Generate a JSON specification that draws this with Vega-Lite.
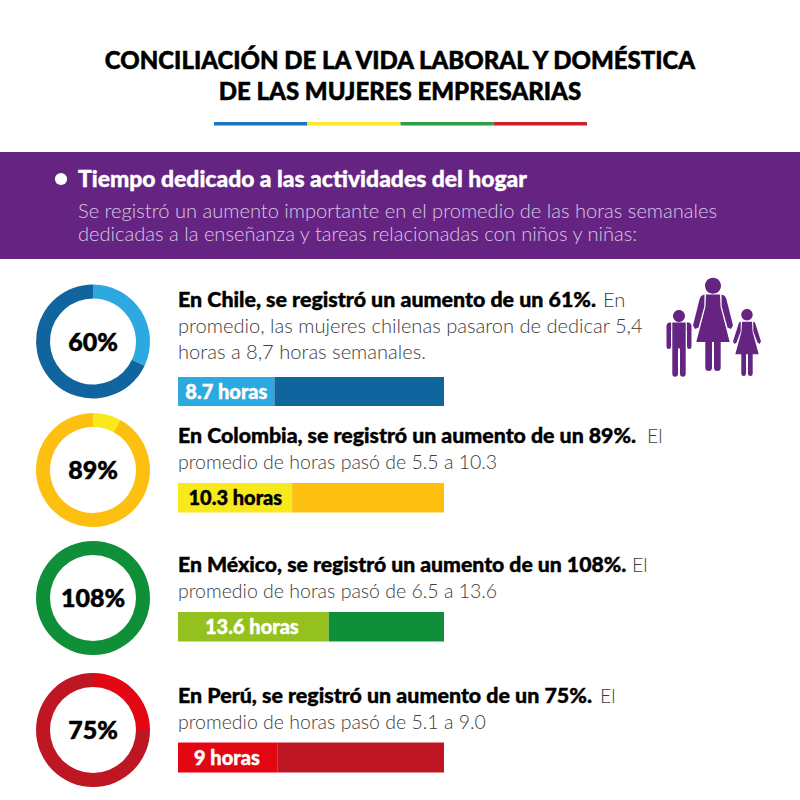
{"$schema":"https://vega.github.io/schema/vega-lite/v6.json","padding":0,"background":"white","spacing":0,
"resolve":{"scale":{"color":"independent","shape":"independent"}},
"config":{"view":{"stroke":null},"text":{"font":"Lato"},"concat":{"spacing":0}},
"vconcat":[
{"width":800,"height":152,"resolve":{"scale":{"x":"independent","y":"independent"}},"layer":[
 {"data":{"values":[{"linea":"1","texto":"CONCILIACIÓN DE LA VIDA LABORAL Y DOMÉSTICA"},{"linea":"2","texto":"DE LAS MUJERES EMPRESARIAS"}]},
  "mark":{"type":"text","fontWeight":900,"fontSize":24,"color":"#000000","stroke":"#000000","strokeWidth":0.5,"align":"center","baseline":"middle"},
  "encoding":{"y":{"field":"linea","type":"ordinal","axis":null,"scale":{"type":"point","domain":["1","2"],"range":[62,93],"padding":0}},"text":{"field":"texto"}}},
 {"data":{"values":[{"tramo":"Chile","orden":1,"parte":25,"fila":"regla"},{"tramo":"Colombia","orden":2,"parte":25,"fila":"regla"},{"tramo":"México","orden":3,"parte":25,"fila":"regla"},{"tramo":"Perú","orden":4,"parte":25,"fila":"regla"}]},
  "mark":"bar",
  "encoding":{"x":{"field":"parte","type":"quantitative","axis":null,"scale":{"domain":[0,100],"range":[214,587]}},
   "y":{"field":"fila","type":"nominal","axis":null,"scale":{"type":"band","domain":["regla"],"range":[122,125.5],"paddingInner":0,"paddingOuter":0}},
   "order":{"field":"orden"},
   "color":{"field":"tramo","type":"nominal","legend":null,"scale":{"domain":["Chile","Colombia","México","Perú"],"range":["#1C75BC","#FFE92C","#2E9E4D","#CC2229"]}}}}
]},
{"width":800,"height":107,"view":{"fill":"#662482","stroke":null},"resolve":{"scale":{"x":"independent","y":"independent"}},"layer":[
 {"data":{"values":[{"columna":"viñeta","fila":"1"}]},"mark":{"type":"point","filled":true,"opacity":1,"size":150,"shape":"circle","color":"#ffffff"},
  "encoding":{"x":{"field":"columna","type":"nominal","axis":null,"scale":{"type":"point","range":[61,61],"padding":0}},
   "y":{"field":"fila","type":"ordinal","axis":null,"scale":{"type":"point","range":[27,27],"padding":0}}}},
 {"data":{"values":[{"columna":"texto","fila":"1","texto":"Tiempo dedicado a las actividades del hogar"}]},"mark":{"type":"text","fontWeight":900,"fontSize":22.9,"color":"#ffffff","stroke":"#ffffff","strokeWidth":0.4,"align":"left","baseline":"middle"},
  "encoding":{"x":{"field":"columna","type":"nominal","axis":null,"scale":{"type":"point","range":[78,78],"padding":0}},
   "y":{"field":"fila","type":"ordinal","axis":null,"scale":{"type":"point","range":[28,28],"padding":0}},"text":{"field":"texto"}}},
 {"data":{"values":[{"columna":"texto","fila":"2","texto":"Se registró un aumento importante en el promedio de las horas semanales"},{"columna":"texto","fila":"3","texto":"dedicadas a la enseñanza y tareas relacionadas con niños y niñas:"}]},"mark":{"type":"text","fontWeight":300,"fontSize":20.1,"color":"#D9C8E3","align":"left","baseline":"middle"},
  "encoding":{"x":{"field":"columna","type":"nominal","axis":null,"scale":{"type":"point","range":[78,78],"padding":0}},
   "y":{"field":"fila","type":"ordinal","axis":null,"scale":{"type":"point","domain":["2","3"],"range":[60,83],"padding":0}},"text":{"field":"texto"}}}
]},
{"width":800,"height":18,"data":{"values":[{"vacio":""}]},"mark":{"type":"text"},"encoding":{"text":{"field":"vacio"}}},

{"spacing":0,"resolve":{"scale":{"color":"independent","shape":"independent"}},"hconcat":[
 {"width":178,"height":129,"layer":[
  {"data":{"values":[{"pais":"Chile","parte":"aumento","orden":1,"pct":32},{"pais":"Chile","parte":"resto","orden":2,"pct":68}]},
   "mark":{"type":"arc","radius":57,"radius2":43},
   "encoding":{"theta":{"field":"pct","type":"quantitative"},"order":{"field":"orden"},
    "x":{"field":"pais","type":"nominal","axis":null,"scale":{"type":"point","range":[93,93],"padding":0}},
    "color":{"field":"parte","type":"nominal","legend":null,"scale":{"domain":["aumento","resto"],"range":["#2DA9E1","#11659F"]}}}},
  {"data":{"values":[{"pais":"Chile","etiqueta":"60%"}]},"mark":{"type":"text","fontWeight":900,"fontSize":25,"color":"#000000","stroke":"#000000","strokeWidth":0.5,"baseline":"middle","dy":1},
   "encoding":{"x":{"field":"pais","type":"nominal","axis":null,"scale":{"type":"point","range":[93,93],"padding":0}},"text":{"field":"etiqueta"}}}
 ]},
 {"width":622,"height":129,"resolve":{"scale":{"x":"independent","y":"independent"}},"layer":[
  {"data":{"values":[{"pais":"Chile","parte":"aumento","orden":1,"horas":8.7,"fila":"barra"},{"pais":"Chile","parte":"resto","orden":2,"horas":15.3,"fila":"barra"}]},
   "mark":"bar",
   "encoding":{"x":{"field":"horas","type":"quantitative","axis":null,"scale":{"domain":[0,24],"range":[0,266]}},"order":{"field":"orden"},
    "y":{"field":"fila","type":"nominal","axis":null,"scale":{"type":"band","domain":["barra"],"range":[100,129],"paddingInner":0,"paddingOuter":0}},
    "color":{"field":"parte","type":"nominal","legend":null,"scale":{"domain":["aumento","resto"],"range":["#2DA9E1","#11659F"]}}}},
  {"data":{"values":[{"horas":8.7,"fila":"barra","etiqueta":"8.7 horas"}]},"mark":{"type":"text","fontWeight":900,"fontSize":20,"color":"#ffffff","stroke":"#ffffff","strokeWidth":0.4,"align":"right","baseline":"middle","dx":-7,"dy":1},
   "encoding":{"x":{"field":"horas","type":"quantitative","axis":null,"scale":{"domain":[0,24],"range":[0,266]}},
    "y":{"field":"fila","type":"nominal","axis":null,"scale":{"type":"band","domain":["barra"],"range":[100,129],"paddingInner":0,"paddingOuter":0}},"text":{"field":"etiqueta"}}},
  {"data":{"values":[{"columna":"inicio","linea":"1","texto":"En Chile, se registró un aumento de un 61%."}]},"mark":{"type":"text","fontWeight":900,"fontSize":21.4,"color":"#000000","stroke":"#000000","strokeWidth":0.4,"align":"left","baseline":"middle"},
   "encoding":{"x":{"field":"columna","type":"nominal","axis":null,"scale":{"type":"point","domain":["inicio","cierre"],"range":[0,425],"padding":0}},
    "y":{"field":"linea","type":"ordinal","axis":null,"scale":{"type":"point","domain":["1","2","3"],"range":[24,76],"padding":0}},"text":{"field":"texto"}}},
  {"data":{"values":[{"columna":"cierre","linea":"1","texto":"En"},{"columna":"inicio","linea":"2","texto":"promedio, las mujeres chilenas pasaron de dedicar 5,4"},{"columna":"inicio","linea":"3","texto":"horas a 8,7 horas semanales."}]},"mark":{"type":"text","fontWeight":300,"fontSize":20.1,"color":"#3C3C3B","align":"left","baseline":"middle"},
   "encoding":{"x":{"field":"columna","type":"nominal","axis":null,"scale":{"type":"point","domain":["inicio","cierre"],"range":[0,425],"padding":0}},
    "y":{"field":"linea","type":"ordinal","axis":null,"scale":{"type":"point","domain":["1","2","3"],"range":[24,76],"padding":0}},"text":{"field":"texto"}}},
  {"data":{"values":[{"persona":"niño"},{"persona":"madre"},{"persona":"niña"}]},"mark":{"type":"point","filled":true,"opacity":1,"size":40000,"color":"#662482","strokeWidth":0},
   "encoding":{"x":{"field":"persona","type":"nominal","axis":null,"scale":{"type":"point","domain":["niño","madre","niña"],"range":[501,569],"padding":0}},
    "shape":{"field":"persona","type":"nominal","legend":null,"scale":{"domain":["niño","madre","niña"],"range":[
     "M-0.06,-0.255a0.06,0.06 0 1,0 0.12,0a0.06,0.06 0 1,0 -0.12,0ZM-0.067,-0.19L0.067,-0.19L0.067,0.32Q0.067,0.352 0.038,0.352Q0.01,0.352 0.01,0.32L0.01,0.07L-0.01,0.07L-0.01,0.32Q-0.01,0.352 -0.038,0.352Q-0.067,0.352 -0.067,0.32ZM-0.078,-0.19L-0.09,-0.19Q-0.125,-0.19 -0.125,-0.15L-0.125,0.05Q-0.125,0.075 -0.102,0.075Q-0.08,0.075 -0.08,0.05L-0.08,-0.11L-0.078,-0.11ZM0.078,-0.19L0.09,-0.19Q0.125,-0.19 0.125,-0.15L0.125,0.05Q0.125,0.075 0.102,0.075Q0.08,0.075 0.08,0.05L0.08,-0.11L0.078,-0.11Z",
     "M-0.08,-0.558a0.08,0.08 0 1,0 0.16,0a0.08,0.08 0 1,0 -0.16,0ZM-0.07,-0.47L0.07,-0.47L0.075,-0.35L0.167,0.005L-0.167,0.005L-0.075,-0.35ZM-0.085,-0.47L-0.11,-0.46Q-0.13,-0.45 -0.14,-0.4L-0.2,-0.16L-0.18,-0.125L-0.145,-0.14L-0.087,-0.35ZM0.085,-0.47L0.11,-0.46Q0.13,-0.45 0.14,-0.4L0.2,-0.16L0.18,-0.125L0.145,-0.14L0.087,-0.35ZM-0.077,0.005L-0.01,0.005L-0.01,0.26Q-0.01,0.295 -0.043,0.295Q-0.077,0.295 -0.077,0.26ZM0.01,0.005L0.077,0.005L0.077,0.26Q0.077,0.295 0.043,0.295Q0.01,0.295 0.01,0.26Z",
     "M-0.057,-0.268a0.057,0.057 0 1,0 0.114,0a0.057,0.057 0 1,0 -0.114,0ZM-0.05,-0.198L0.05,-0.198L0.055,-0.1L0.117,0.128L-0.117,0.128L-0.055,-0.1ZM-0.062,-0.198L-0.08,-0.19L-0.14,0L-0.125,0.025L-0.105,0.01L-0.063,-0.1ZM0.062,-0.198L0.08,-0.19L0.14,0L0.125,0.025L0.105,0.01L0.063,-0.1ZM-0.057,0.128L-0.01,0.128L-0.01,0.32Q-0.01,0.345 -0.033,0.345Q-0.057,0.345 -0.057,0.32ZM0.01,0.128L0.057,0.128L0.057,0.32Q0.057,0.345 0.033,0.345Q0.01,0.345 0.01,0.32Z"
    ]}}}}
 ]}
]},

{"spacing":0,"resolve":{"scale":{"color":"independent"}},"hconcat":[
 {"width":178,"height":128,"layer":[
  {"data":{"values":[{"pais":"Colombia","parte":"aumento","orden":1,"pct":8},{"pais":"Colombia","parte":"resto","orden":2,"pct":92}]},
   "mark":{"type":"arc","radius":57,"radius2":43},
   "encoding":{"theta":{"field":"pct","type":"quantitative"},"order":{"field":"orden"},
    "x":{"field":"pais","type":"nominal","axis":null,"scale":{"type":"point","range":[93,93],"padding":0}},
    "color":{"field":"parte","type":"nominal","legend":null,"scale":{"domain":["aumento","resto"],"range":["#F7E91B","#FDC010"]}}}},
  {"data":{"values":[{"pais":"Colombia","etiqueta":"89%"}]},"mark":{"type":"text","fontWeight":900,"fontSize":25,"color":"#000000","stroke":"#000000","strokeWidth":0.5,"baseline":"middle","dy":1},
   "encoding":{"x":{"field":"pais","type":"nominal","axis":null,"scale":{"type":"point","range":[93,93],"padding":0}},"text":{"field":"etiqueta"}}}
 ]},
 {"width":622,"height":128,"resolve":{"scale":{"x":"independent","y":"independent"}},"layer":[
  {"data":{"values":[{"pais":"Colombia","parte":"aumento","orden":1,"horas":10.3,"fila":"barra"},{"pais":"Colombia","parte":"resto","orden":2,"horas":13.7,"fila":"barra"}]},
   "mark":"bar",
   "encoding":{"x":{"field":"horas","type":"quantitative","axis":null,"scale":{"domain":[0,24],"range":[0,266]}},"order":{"field":"orden"},
    "y":{"field":"fila","type":"nominal","axis":null,"scale":{"type":"band","domain":["barra"],"range":[77,106.5],"paddingInner":0,"paddingOuter":0}},
    "color":{"field":"parte","type":"nominal","legend":null,"scale":{"domain":["aumento","resto"],"range":["#F7E91B","#FDC010"]}}}},
  {"data":{"values":[{"horas":10.3,"fila":"barra","etiqueta":"10.3 horas"}]},"mark":{"type":"text","fontWeight":900,"fontSize":20,"color":"#000000","stroke":"#000000","strokeWidth":0.4,"align":"right","baseline":"middle","dx":-10,"dy":1},
   "encoding":{"x":{"field":"horas","type":"quantitative","axis":null,"scale":{"domain":[0,24],"range":[0,266]}},
    "y":{"field":"fila","type":"nominal","axis":null,"scale":{"type":"band","domain":["barra"],"range":[77,106.5],"paddingInner":0,"paddingOuter":0}},"text":{"field":"etiqueta"}}},
  {"data":{"values":[{"columna":"inicio","linea":"1","texto":"En Colombia, se registró un aumento de un 89%."}]},"mark":{"type":"text","fontWeight":900,"fontSize":21.3,"color":"#000000","stroke":"#000000","strokeWidth":0.4,"align":"left","baseline":"middle"},
   "encoding":{"x":{"field":"columna","type":"nominal","axis":null,"scale":{"type":"point","domain":["inicio","cierre"],"range":[0,469],"padding":0}},
    "y":{"field":"linea","type":"ordinal","axis":null,"scale":{"type":"point","domain":["1","2"],"range":[31,57],"padding":0}},"text":{"field":"texto"}}},
  {"data":{"values":[{"columna":"cierre","linea":"1","texto":"El"},{"columna":"inicio","linea":"2","texto":"promedio de horas pasó de 5.5 a 10.3"}]},"mark":{"type":"text","fontWeight":300,"fontSize":19.5,"color":"#3C3C3B","align":"left","baseline":"middle"},
   "encoding":{"x":{"field":"columna","type":"nominal","axis":null,"scale":{"type":"point","domain":["inicio","cierre"],"range":[0,469],"padding":0}},
    "y":{"field":"linea","type":"ordinal","axis":null,"scale":{"type":"point","domain":["1","2"],"range":[31,57],"padding":0}},"text":{"field":"texto"}}}
 ]}
]},

{"spacing":0,"resolve":{"scale":{"color":"independent"}},"hconcat":[
 {"width":178,"height":128,"layer":[
  {"data":{"values":[{"pais":"México","parte":"resto","orden":1,"pct":100}]},
   "mark":{"type":"arc","radius":57,"radius2":43},
   "encoding":{"theta":{"field":"pct","type":"quantitative"},"order":{"field":"orden"},
    "x":{"field":"pais","type":"nominal","axis":null,"scale":{"type":"point","range":[93,93],"padding":0}},
    "color":{"field":"parte","type":"nominal","legend":null,"scale":{"domain":["aumento","resto"],"range":["#95C11F","#0F9038"]}}}},
  {"data":{"values":[{"pais":"México","etiqueta":"108%"}]},"mark":{"type":"text","fontWeight":900,"fontSize":25,"color":"#000000","stroke":"#000000","strokeWidth":0.5,"baseline":"middle","dy":1},
   "encoding":{"x":{"field":"pais","type":"nominal","axis":null,"scale":{"type":"point","range":[93,93],"padding":0}},"text":{"field":"etiqueta"}}}
 ]},
 {"width":622,"height":128,"resolve":{"scale":{"x":"independent","y":"independent"}},"layer":[
  {"data":{"values":[{"pais":"México","parte":"aumento","orden":1,"horas":13.6,"fila":"barra"},{"pais":"México","parte":"resto","orden":2,"horas":10.4,"fila":"barra"}]},
   "mark":"bar",
   "encoding":{"x":{"field":"horas","type":"quantitative","axis":null,"scale":{"domain":[0,24],"range":[0,266]}},"order":{"field":"orden"},
    "y":{"field":"fila","type":"nominal","axis":null,"scale":{"type":"band","domain":["barra"],"range":[78,107.5],"paddingInner":0,"paddingOuter":0}},
    "color":{"field":"parte","type":"nominal","legend":null,"scale":{"domain":["aumento","resto"],"range":["#95C11F","#0F9038"]}}}},
  {"data":{"values":[{"horas":13.6,"fila":"barra","etiqueta":"13.6 horas"}]},"mark":{"type":"text","fontWeight":900,"fontSize":20,"color":"#ffffff","stroke":"#ffffff","strokeWidth":0.4,"align":"right","baseline":"middle","dx":-30,"dy":1},
   "encoding":{"x":{"field":"horas","type":"quantitative","axis":null,"scale":{"domain":[0,24],"range":[0,266]}},
    "y":{"field":"fila","type":"nominal","axis":null,"scale":{"type":"band","domain":["barra"],"range":[78,107.5],"paddingInner":0,"paddingOuter":0}},"text":{"field":"etiqueta"}}},
  {"data":{"values":[{"columna":"inicio","linea":"1","texto":"En México, se registró un aumento de un 108%."}]},"mark":{"type":"text","fontWeight":900,"fontSize":21.2,"color":"#000000","stroke":"#000000","strokeWidth":0.4,"align":"left","baseline":"middle"},
   "encoding":{"x":{"field":"columna","type":"nominal","axis":null,"scale":{"type":"point","domain":["inicio","cierre"],"range":[0,454],"padding":0}},
    "y":{"field":"linea","type":"ordinal","axis":null,"scale":{"type":"point","domain":["1","2"],"range":[32,58],"padding":0}},"text":{"field":"texto"}}},
  {"data":{"values":[{"columna":"cierre","linea":"1","texto":"El"},{"columna":"inicio","linea":"2","texto":"promedio de horas pasó de 6.5 a 13.6"}]},"mark":{"type":"text","fontWeight":300,"fontSize":19.5,"color":"#3C3C3B","align":"left","baseline":"middle"},
   "encoding":{"x":{"field":"columna","type":"nominal","axis":null,"scale":{"type":"point","domain":["inicio","cierre"],"range":[0,454],"padding":0}},
    "y":{"field":"linea","type":"ordinal","axis":null,"scale":{"type":"point","domain":["1","2"],"range":[32,58],"padding":0}},"text":{"field":"texto"}}}
 ]}
]},

{"spacing":0,"resolve":{"scale":{"color":"independent"}},"hconcat":[
 {"width":178,"height":136,"layer":[
  {"data":{"values":[{"pais":"Perú","parte":"aumento","orden":1,"pct":25},{"pais":"Perú","parte":"resto","orden":2,"pct":75}]},
   "mark":{"type":"arc","radius":57,"radius2":43},
   "encoding":{"theta":{"field":"pct","type":"quantitative"},"order":{"field":"orden"},
    "x":{"field":"pais","type":"nominal","axis":null,"scale":{"type":"point","range":[93,93],"padding":0}},
    "color":{"field":"parte","type":"nominal","legend":null,"scale":{"domain":["aumento","resto"],"range":["#E30613","#BE1622"]}}}},
  {"data":{"values":[{"pais":"Perú","etiqueta":"75%"}]},"mark":{"type":"text","fontWeight":900,"fontSize":25,"color":"#000000","stroke":"#000000","strokeWidth":0.5,"baseline":"middle","dy":1},
   "encoding":{"x":{"field":"pais","type":"nominal","axis":null,"scale":{"type":"point","range":[93,93],"padding":0}},"text":{"field":"etiqueta"}}}
 ]},
 {"width":622,"height":136,"resolve":{"scale":{"x":"independent","y":"independent"}},"layer":[
  {"data":{"values":[{"pais":"Perú","parte":"aumento","orden":1,"horas":9,"fila":"barra"},{"pais":"Perú","parte":"resto","orden":2,"horas":15,"fila":"barra"}]},
   "mark":"bar",
   "encoding":{"x":{"field":"horas","type":"quantitative","axis":null,"scale":{"domain":[0,24],"range":[0,266]}},"order":{"field":"orden"},
    "y":{"field":"fila","type":"nominal","axis":null,"scale":{"type":"band","domain":["barra"],"range":[80.5,110.5],"paddingInner":0,"paddingOuter":0}},
    "color":{"field":"parte","type":"nominal","legend":null,"scale":{"domain":["aumento","resto"],"range":["#E30613","#BE1622"]}}}},
  {"data":{"values":[{"horas":9,"fila":"barra","etiqueta":"9 horas"}]},"mark":{"type":"text","fontWeight":900,"fontSize":20,"color":"#ffffff","stroke":"#ffffff","strokeWidth":0.4,"align":"right","baseline":"middle","dx":-18,"dy":1},
   "encoding":{"x":{"field":"horas","type":"quantitative","axis":null,"scale":{"domain":[0,24],"range":[0,266]}},
    "y":{"field":"fila","type":"nominal","axis":null,"scale":{"type":"band","domain":["barra"],"range":[80.5,110.5],"paddingInner":0,"paddingOuter":0}},"text":{"field":"etiqueta"}}},
  {"data":{"values":[{"columna":"inicio","linea":"1","texto":"En Perú, se registró un aumento de un 75%."}]},"mark":{"type":"text","fontWeight":900,"fontSize":21.4,"color":"#000000","stroke":"#000000","strokeWidth":0.4,"align":"left","baseline":"middle"},
   "encoding":{"x":{"field":"columna","type":"nominal","axis":null,"scale":{"type":"point","domain":["inicio","cierre"],"range":[0,422],"padding":0}},
    "y":{"field":"linea","type":"ordinal","axis":null,"scale":{"type":"point","domain":["1","2"],"range":[35,61],"padding":0}},"text":{"field":"texto"}}},
  {"data":{"values":[{"columna":"cierre","linea":"1","texto":"El"},{"columna":"inicio","linea":"2","texto":"promedio de horas pasó de 5.1 a 9.0"}]},"mark":{"type":"text","fontWeight":300,"fontSize":19.5,"color":"#3C3C3B","align":"left","baseline":"middle"},
   "encoding":{"x":{"field":"columna","type":"nominal","axis":null,"scale":{"type":"point","domain":["inicio","cierre"],"range":[0,422],"padding":0}},
    "y":{"field":"linea","type":"ordinal","axis":null,"scale":{"type":"point","domain":["1","2"],"range":[35,61],"padding":0}},"text":{"field":"texto"}}}
 ]}
]}
]}
